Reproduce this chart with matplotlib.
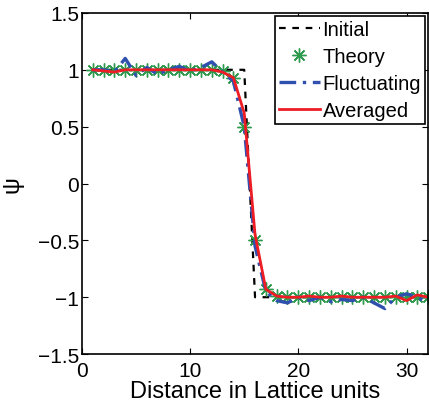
import numpy as np
import matplotlib
matplotlib.use('Agg')
from matplotlib import pyplot as plt

x = list(range(1, 33))

initial = [1] * 15 + [-1] * 17

theory = [1.0, 1.0, 1.0, 1.0, 1.0, 1.0, 1.0, 1.0, 1.0, 1.0, 1.0, 1.0, 0.99, 0.93, 0.5,
          -0.5, -0.93, -0.99, -1.0, -1.0, -1.0, -1.0, -1.0, -1.0, -1.0, -1.0, -1.0, -1.0,
          -1.0, -1.0, -1.0, -1.0]

fluctuating = [1.0, 1.0, 0.98, 1.1, 0.95, 1.02, 0.96, 1.0, 1.03, 0.99, 1.02, 1.07, 0.98, 0.9,
               0.5, -0.55, -0.95, -1.03, -1.05, -1.0, -1.03, -1.0, -1.04, -1.02, -1.03, -1.0,
               -1.05, -1.1, -1.0, -0.97, -1.0, -1.05]

averaged = [1.0, 0.99, 0.98, 1.0, 1.0, 1.0, 1.0, 1.0, 1.0, 1.0, 1.0, 1.0, 0.98, 0.93, 0.62,
            -0.45, -0.93, -0.99, -1.0, -1.0, -0.99, -1.0, -1.0, -0.99, -1.0, -1.0, -1.0, -1.0,
            -0.99, -1.03, -0.98, -1.0]

plt.rcParams['font.family'] = ['Liberation Sans', 'DejaVu Sans']

fig = plt.figure(figsize=(4.29, 4.10), dpi=100)
ax = fig.add_axes([0.191, 0.134, 0.807, 0.832])

ax.plot(x, initial, color='black', lw=1.6, dashes=(3, 3), label='Initial')
ax.plot(x, theory, ls='none', marker=(8, 2, 0), color='#2e9a4e', ms=10, mew=1.0, label='Theory')
ax.plot(x, fluctuating, color='#3050b0', lw=2.4, dashes=(5, 2, 1, 2), label='Fluctuating')
ax.plot(x, averaged, '-', color='#ee1c24', lw=2.0, label='Averaged')

ax.set_xlim(0, 32)
ax.set_ylim(-1.5, 1.5)
ax.set_xticks([0, 10, 20, 30])
ax.set_yticks([-1.5, -1, -0.5, 0, 0.5, 1, 1.5])
ax.set_yticklabels(['\u22121.5', '\u22121', '\u22120.5', '0', '0.5', '1', '1.5'])
ax.tick_params(direction='in', labelsize=15, length=4, top=True, right=True, pad=2)
ax.tick_params(axis='x', pad=5)
for s in ax.spines.values():
    s.set_linewidth(1.2)

ax.set_xlabel('Distance in Lattice units', fontsize=17, labelpad=0)
ax.set_ylabel('\u03c8', fontsize=17, labelpad=10)

leg = ax.legend(loc='upper right', fontsize=14.5, handlelength=2.0, handletextpad=0.15,
                borderaxespad=0.15, fancybox=False, framealpha=1, edgecolor='black',
                labelspacing=0.4, borderpad=0.2)
leg.get_frame().set_linewidth(1.2)

plt.savefig('out.png', dpi=100)
